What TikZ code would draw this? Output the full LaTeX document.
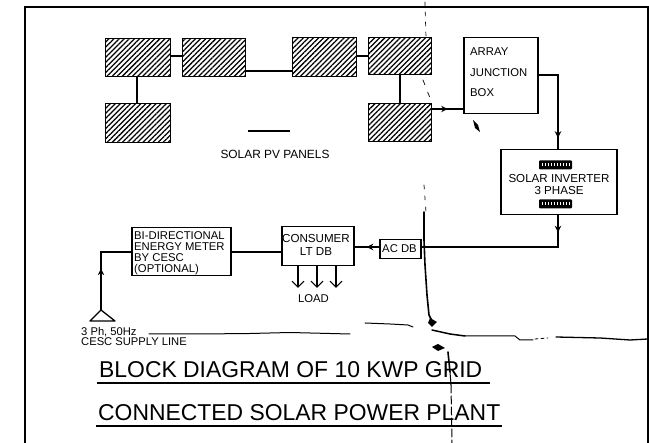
\documentclass[tikz,border=0pt]{standalone}
\usepackage{fontspec}
\setmainfont{Liberation Sans}
\usetikzlibrary{patterns.meta,arrows.meta,decorations.markings,calc}
\tikzset{
  x=1pt,y=-1pt,
  panel/.style={draw=black,line width=1.3pt,inner sep=0pt,anchor=north west,
    pattern={Lines[angle=45,distance=3.6pt,line width=1.25pt]},pattern color=black},
  blockbox/.style={draw=black,line width=1.5pt,fill=white,inner sep=0pt,anchor=north west},
  wire/.style={line width=1.1pt,black},
  heavywire/.style={line width=2pt,black},
  midarrow/.style={postaction={decorate},decoration={markings,
    mark=at position #1 with {\arrow{Stealth[length=6.5pt,width=6.5pt]}}}},
  small/.style={font=\fontsize{11.3}{11}\selectfont,inner sep=0pt,align=center},
  titletext/.style={font=\fontsize{22.9}{24}\selectfont,inner sep=0pt,anchor=base west},
  crack/.style={black,line cap=round,line join=round},
  plate/.style={fill=black,rounded corners=1pt,inner sep=0pt,minimum width=33pt,minimum height=9pt},
}
\begin{document}
\begin{tikzpicture}
\useasboundingbox (0,0) rectangle (649,443);
% page frame
\coordinate (fa) at (25,443); \coordinate (fb) at (25,7);
\coordinate (fc) at (648,7); \coordinate (fd) at (648,443);
\draw[line width=1.2pt] (fa) -- (fb) -- (fc) -- (fd);

% panels
\node[panel,minimum width=65pt,minimum height=38pt] (p1) at (105,38) {};
\node[panel,minimum width=63pt,minimum height=38pt] (p2) at (182,38) {};
\node[panel,minimum width=64pt,minimum height=39pt] (p3) at (292,37) {};
\node[panel,minimum width=63pt,minimum height=37pt] (p4) at (368,37) {};
\node[panel,minimum width=65pt,minimum height=39pt] (p5) at (105,103) {};
\node[panel,minimum width=63pt,minimum height=38pt] (p6) at (368,103) {};

% blocks
\node[blockbox,minimum width=74pt,minimum height=76pt] (ajb) at (463,37) {};
\node[small,anchor=west,align=left,font=\fontsize{11.3}{20.6}\selectfont] (ajbt) at (470,72.5) {ARRAY\\JUNCTION\\BOX};
\node[blockbox,minimum width=116pt,minimum height=65pt] (inv) at (500,149) {};
\node[plate] (pl1) at (555.5,165) {};
\draw[white,line width=3pt,dash pattern=on 1.5pt off 1.5pt] ($(pl1.west)+(3,0)$) -- ($(pl1.east)+(-3,0)$);
\node[plate] (pl2) at (555.5,204) {};
\draw[white,line width=3pt,dash pattern=on 1.5pt off 1.5pt] ($(pl2.west)+(3,0)$) -- ($(pl2.east)+(-3,0)$);
\node[small,font=\fontsize{11.6}{12}\selectfont] (invt) at (559,185) {SOLAR INVERTER\\3 PHASE};
\node[blockbox,minimum width=99pt,minimum height=48pt] (meter) at (131,227) {};
\node[small,align=left,anchor=north west,font=\fontsize{11.3}{11}\selectfont] (metert) at (134,231) {BI-DIRECTIONAL\\ENERGY METER\\BY CESC\\(OPTIONAL)};
\node[blockbox,minimum width=72pt,minimum height=39pt] (cons) at (281,226) {};
\node[small,anchor=center,font=\fontsize{11.6}{13}\selectfont] (const) at (316,245) {CONSUMER\\LT DB};
\node[blockbox,minimum width=41pt,minimum height=19pt] (acdb) at (379,239) {};
\node[small] (acdbt) at (399.5,248.5) {AC DB};

% panel wiring
\draw[heavywire] (p1.east |- 0,56) -- (p2.west |- 0,56);
\draw[heavywire] (137,0 |- p1.south) -- (137,0 |- p5.north);
\draw[line width=1.4pt] (p2.east |- 0,71) -- (p3.west |- 0,71);
\draw[heavywire] (p3.east |- 0,56) -- (p4.west |- 0,56);
\draw[heavywire] (400,0 |- p4.south) -- (400,0 |- p6.north);
\draw[line width=1.4pt,midarrow=0.5] (p6.east |- 0,109) -- (ajb.west |- 0,109);
\coordinate (cd1) at (248,131); \coordinate (cd2) at (290,131);
\draw[line width=1.2pt] (cd1) -- (cd2);
\node[small,font=\fontsize{11.9}{12}\selectfont] (pvlabel) at (275,154) {SOLAR PV PANELS};

% main wiring
\draw[wire,midarrow=0.88] (ajb.east |- 0,75) -| (558,0 |- inv.north);
\draw[wire,midarrow=0.1] (558,0 |- inv.south) |- (acdb.east |- 0,247);
\draw[wire,midarrow=0.5] (acdb.west |- 0,247) -- (cons.east |- 0,247);
\draw[wire] (cons.west |- 0,252) -- (meter.east |- 0,252);
\coordinate (apex) at (101,310);
\draw[wire,midarrow=0.47] (apex) |- (meter.west |- 0,252);
\coordinate (tl) at (90,321); \coordinate (tr) at (115,321);
\draw[line width=1.3pt,line join=round] (apex) -- (tl) -- (tr) -- cycle;

% loads
\foreach \n/\lx in {a/298,b/317,c/336}{
  \coordinate (load\n) at (\lx,288);
  \draw[wire,-{Straight Barb[length=6pt,width=12pt]}] (\lx,0 |- cons.south) -- (load\n);
}
\node[small] (loadt) at (313.5,299) {LOAD};

% supply label
\node[small,align=left,anchor=north west,font=\fontsize{11.2}{10}\selectfont] (sup) at (81,327) {3 Ph, 50Hz\\CESC SUPPLY LINE};

% titles
\node[titletext] (t1) at (99,377.5) {BLOCK DIAGRAM OF 10 KWP GRID};
\node[titletext] (t2) at (98,421) {CONNECTED SOLAR POWER PLANT};
\coordinate (u1a) at (97,383); \coordinate (u1b) at (490,383);
\coordinate (u2a) at (96,426); \coordinate (u2b) at (502,426);
\draw[line width=1.1pt] (u1a) -- (u1b);
\draw[line width=1.2pt] (u2a) -- (u2b);

% scanner tears
\draw[crack,line width=1pt] (149,334) -- (200,334) -- (250,333.5) -- (290,332.5) -- (350,334);
\draw[crack,line width=1pt] (365,323) -- (390,324) -- (408,325) -- (413,327);
\draw[crack,line width=1.6pt] (424,212) -- (424,240) -- (425,265) -- (427,295) -- (429,315) -- (433,323);
\fill[black] (430,318) -- (437,322) -- (432,327) -- (428,323) -- cycle;
\draw[crack,line width=1.5pt] (432,330) -- (450,334) -- (465,336);
\draw[crack,line width=1pt] (465,336) -- (515,336) -- (520,340) -- (533,340);
\draw[crack,line width=.8pt,dashed] (535,339) -- (548,338);
\draw[crack,line width=1.3pt] (556,337) -- (600,338) -- (630,340) -- (648,339);
\fill[black] (432,347) -- (438,344) -- (445,348) -- (438,351) -- cycle;
\draw[crack,line width=1.6pt] (448,352) -- (450,372);
\draw[crack,line width=1pt] (450,372) -- (451,385);
\draw[crack,line width=1pt,dash pattern=on 8pt off 3pt] (451,385) -- (452,443);
\draw[crack,line width=.7pt,dash pattern=on 4pt off 6pt] (425,2) -- (426,38);
\draw[crack,line width=.7pt,dash pattern=on 5pt off 8pt] (423,80) -- (430,98);
\draw[crack,line width=.7pt,dash pattern=on 4pt off 7pt] (424,185) -- (426,212);
\fill[black] (473,120) -- (478,125) -- (480,132) -- (475,128) -- cycle;
\end{tikzpicture}
\end{document}
